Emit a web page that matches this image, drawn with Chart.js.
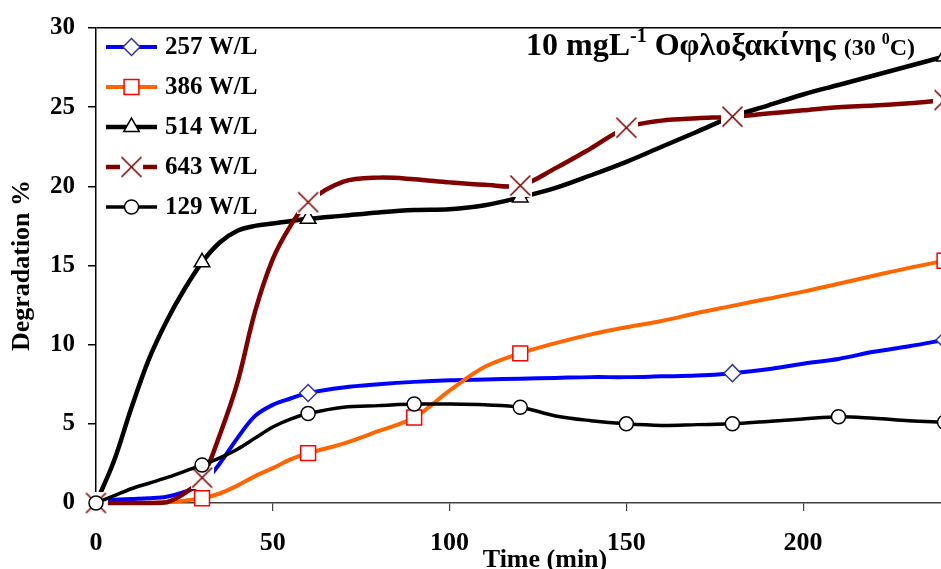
<!DOCTYPE html>
<html>
<head>
<meta charset="utf-8">
<script src="https://cdn.jsdelivr.net/npm/chart.js@4/dist/chart.umd.min.js"></script>
<style>
  html, body { margin: 0; padding: 0; background: #fff; }
  canvas { display: block; }
</style>
</head>
<body>
<canvas id="myChart" width="941" height="569"></canvas>
<script>
// sampling times (min)
const times = [0, 5, 10, 15, 20, 25, 30, 35, 40, 45, 50, 55, 60, 70, 80, 90, 100, 110, 120, 130, 140, 150, 160, 170, 180, 190, 200, 210, 220, 230, 240]

// degradation %
const deg257 = [0, 0.2, 0.25, 0.3, 0.4, 0.7, 1.2, 2.5, 4.1, 5.5, 6.2, 6.6, 6.95, 7.3, 7.5, 7.65, 7.75, 7.8, 7.85, 7.9, 7.95, 7.95, 8.0, 8.05, 8.2, 8.45, 8.8, 9.1, 9.55, 9.9, 10.3]
const deg386 = [0, 0, 0, 0, 0.05, 0.15, 0.3, 0.6, 1.1, 1.7, 2.2, 2.75, 3.15, 3.75, 4.55, 5.4, 7.1, 8.6, 9.45, 10.1, 10.65, 11.1, 11.5, 12.0, 12.45, 12.9, 13.35, 13.85, 14.35, 14.85, 15.3]
const deg514 = [0, 2.6, 6.0, 9.1, 11.5, 13.5, 15.2, 16.45, 17.2, 17.5, 17.65, 17.8, 17.95, 18.15, 18.35, 18.5, 18.55, 18.8, 19.3, 19.9, 20.7, 21.55, 22.5, 23.45, 24.4, 25.1, 25.8, 26.4, 27.0, 27.6, 28.2]
const deg643 = [0, 0, 0, 0, 0.05, 0.6, 1.6, 4.3, 7.6, 12.1, 15.4, 17.5, 19.0, 20.3, 20.55, 20.45, 20.25, 20.1, 20.05, 21.15, 22.4, 23.7, 24.15, 24.3, 24.4, 24.6, 24.8, 25.0, 25.1, 25.25, 25.45]
const deg129 = [0, 0.45, 0.9, 1.25, 1.6, 2.0, 2.4, 2.85, 3.4, 4.1, 4.8, 5.3, 5.65, 6.05, 6.15, 6.25, 6.25, 6.2, 6.05, 5.5, 5.2, 5.0, 4.9, 4.95, 5.0, 5.15, 5.3, 5.45, 5.35, 5.2, 5.1]

// times where a marker is shown
const mark257 = [0, 60, 180, 240]
const mark386 = [0, 30, 60, 90, 120, 240]
const mark514 = [0, 30, 60, 120, 240]
const mark643 = [0, 30, 60, 120, 150, 180, 240]
const mark129 = [0, 30, 60, 90, 120, 150, 180, 210, 240]

const seriesLabels = ['257 W/L', '386 W/L', '514 W/L', '643 W/L', '129 W/L']
const xTicks = [0, 50, 100, 150, 200]
const yTicks = [0, 5, 10, 15, 20, 25, 30]
const xMax = 239   // the picture is cut just before 240

const FONT = "'Liberation Serif', 'Times New Roman', serif"

document.addEventListener("DOMContentLoaded", () => {
    displayChart()
})

function toPoints(values) {
    return times.map((t, i) => ({ x: t, y: values[i] }))
}

function radii(marks, r) {
    return times.map(t => marks.includes(t) ? r : 0)
}

// X marker with a white box behind it, like the excel one
function crossMarker(color) {
    const c = document.createElement('canvas')
    const s = 23
    c.width = s
    c.height = s
    const g = c.getContext('2d')
    g.fillStyle = '#fff'
    g.fillRect(0, 0, s, s)
    g.strokeStyle = color
    g.lineWidth = 1.6
    const h = s / 2, d = 10
    g.beginPath()
    g.moveTo(h - d, h - d); g.lineTo(h + d, h + d)
    g.moveTo(h + d, h - d); g.lineTo(h - d, h + d)
    g.stroke()
    return c
}

const decor = {
    id: 'decor',
    afterDraw(chart) {
        const ctx = chart.ctx
        ctx.save()

        // legend inside the plot
        chart.data.datasets.forEach((ds, i) => {
            const y = 47 + 40 * i
            ctx.strokeStyle = ds.borderColor
            ctx.lineWidth = ds.borderWidth
            ctx.beginPath()
            ctx.moveTo(106, y)
            ctx.lineTo(157, y)
            ctx.stroke()
            ctx.fillStyle = '#fff'
            ctx.strokeStyle = ds.pointBorderColor
            ctx.lineWidth = ds.pointBorderWidth
            Chart.helpers.drawPoint(ctx, {
                pointStyle: ds.pointStyle,
                radius: ds.legendRadius,
                borderWidth: ds.pointBorderWidth,
                rotation: 0
            }, 131.5, y)
            ctx.fillStyle = '#000'
            ctx.font = 'bold 25px ' + FONT
            ctx.textBaseline = 'middle'
            ctx.textAlign = 'left'
            ctx.fillText(ds.label, 165, y + 1)
        })

        // title with superscripts
        const parts = [
            ['10 mgL', 32, 0],
            ['-1', 20, 13],
            [' Οφλοξακίνης ', 32, 0],
            ['(30 ', 24, 0],
            ['0', 16, 11],
            ['C)', 24, 0]
        ]
        let x = 526
        ctx.textBaseline = 'alphabetic'
        parts.forEach(p => {
            ctx.font = 'bold ' + p[1] + 'px ' + FONT
            ctx.fillText(p[0], x, 55 - p[2])
            x += ctx.measureText(p[0]).width
        })

        // x axis title, set off-centre as in the original
        ctx.font = 'bold 26px ' + FONT
        ctx.textAlign = 'center'
        ctx.fillText('Time (min)', 545, 567)
        ctx.restore()
    }
}

function displayChart() {
    const ctx = document.getElementById('myChart')
    const brown = '#800000'
    const common = {
        pointBackgroundColor: '#fff',
        pointBorderWidth: 1.5,
        tension: 0.35,
        clip: 12
    }
    const datasets = [
        Object.assign({}, common, {
            label: seriesLabels[0], data: toPoints(deg257),
            borderColor: '#0000ff', borderWidth: 4,
            pointStyle: 'rectRot', pointRadius: radii(mark257, 8.5), legendRadius: 8.5,
            pointBorderColor: '#333399', order: 5
        }),
        Object.assign({}, common, {
            label: seriesLabels[1], data: toPoints(deg386),
            borderColor: '#ff6600', borderWidth: 4,
            pointStyle: 'rect', pointRadius: radii(mark386, 10.5), legendRadius: 10.5,
            pointBorderColor: '#ff0000', order: 4
        }),
        Object.assign({}, common, {
            label: seriesLabels[2], data: toPoints(deg514),
            borderColor: '#000', borderWidth: 4.5,
            pointStyle: 'triangle', pointRadius: radii(mark514, 9), legendRadius: 9,
            pointBorderColor: '#000', order: 3
        }),
        Object.assign({}, common, {
            label: seriesLabels[3], data: toPoints(deg643),
            borderColor: brown, borderWidth: 4.5,
            pointStyle: crossMarker(brown), pointRadius: radii(mark643, 10), legendRadius: 10,
            pointBorderColor: brown, order: 2
        }),
        Object.assign({}, common, {
            label: seriesLabels[4], data: toPoints(deg129),
            borderColor: '#000', borderWidth: 3.5,
            pointStyle: 'circle', pointRadius: radii(mark129, 7), legendRadius: 7,
            pointBorderColor: '#000', order: 1
        })
    ]

    new Chart(ctx, {
        type: 'line',
        data: { datasets: datasets },
        plugins: [decor],
        options: {
            responsive: false,
            animation: false,
            layout: { autoPadding: false, padding: { top: 23, right: 0, bottom: 0, left: 0 } },
            plugins: {
                legend: { display: false },
                tooltip: { enabled: false }
            },
            scales: {
                x: {
                    type: 'linear',
                    min: 0,
                    max: xMax,
                    afterBuildTicks: s => { s.ticks = xTicks.map(v => ({ value: v })) },
                    afterFit: s => { s.height = 66; s.paddingLeft = 0; s.paddingRight = 0 },
                    ticks: {
                        color: '#000',
                        padding: 17,
                        maxRotation: 0,
                        autoSkip: false,
                        font: { family: FONT, size: 26, weight: 'bold' }
                    },
                    grid: { drawOnChartArea: false, color: '#404040', tickLength: 8, lineWidth: 1.2 },
                    border: { color: '#404040', width: 1.5 }
                },
                y: {
                    min: yTicks[0],
                    max: yTicks[yTicks.length - 1],
                    afterBuildTicks: s => { s.ticks = yTicks.map(v => ({ value: v })) },
                    afterFit: s => { s.width = 96 },
                    ticks: {
                        color: '#000',
                        padding: 13,
                        font: { family: FONT, size: 25, weight: 'bold' }
                    },
                    grid: {
                        color: c => (c.tick && c.tick.value === 30) ? '#000' : 'rgba(0,0,0,0)',
                        tickColor: '#000',
                        tickLength: 8,
                        lineWidth: 1.5
                    },
                    border: { color: '#000', width: 1.5 },
                    title: {
                        display: true,
                        text: 'Degradation %',
                        color: '#000',
                        font: { family: FONT, size: 26, weight: 'bold' },
                        padding: { top: 7, bottom: 0 }
                    }
                }
            }
        }
    })
}
</script>
</body>
</html>
